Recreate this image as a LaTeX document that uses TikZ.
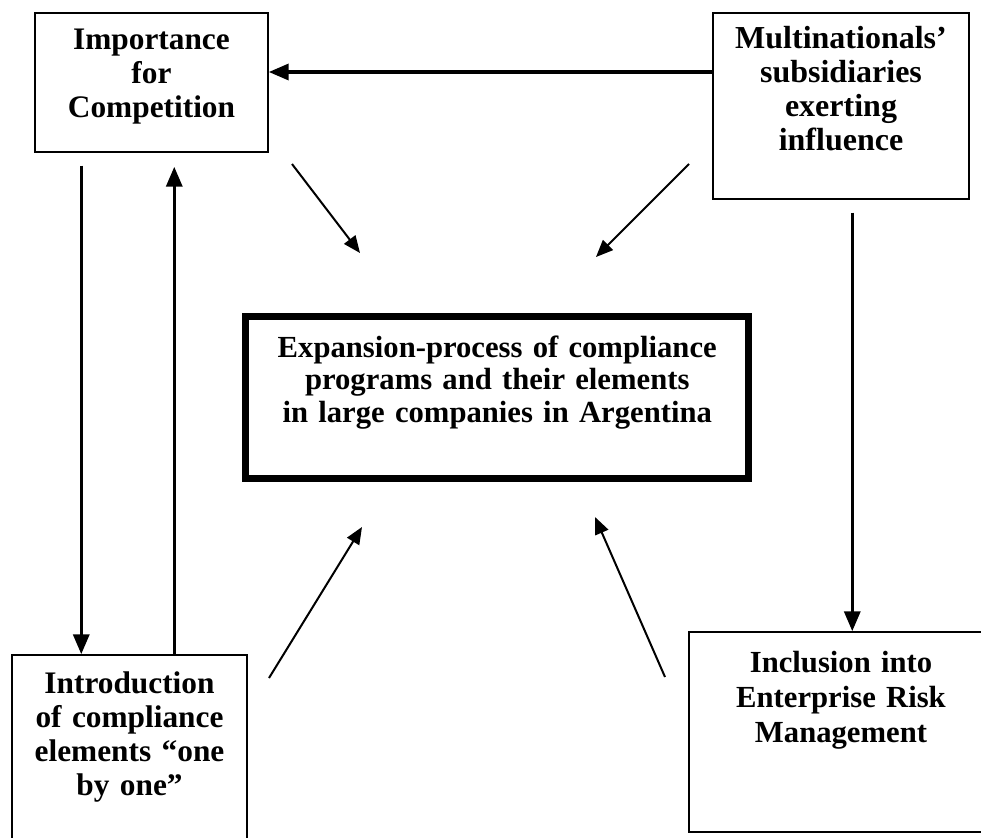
\documentclass[tikz,border=0pt]{standalone}
\usepackage{fontspec}
\setmainfont{Liberation Serif}
\usetikzlibrary{arrows.meta,calc}
\tikzset{
    mybox/.style={rectangle, draw=black, line width=1.1pt, inner sep=0pt, align=center, font=\bfseries\fontsize{23.5}{25.5}\selectfont},
    mainbox/.style={mybox, line width=5.25pt, font=\bfseries\fontsize{23}{24.5}\selectfont},
    myarrow/.style={-{Triangle[length=15pt,width=12pt]}, line width=2.6pt},
    thinarrow/.style={-{Triangle[length=12.75pt,width=10.5pt]}, line width=1.5pt}
}
\begin{document}
\begin{tikzpicture}[x=0.75pt, y=-0.75pt]
\useasboundingbox (0,0) rectangle (981,838);
\clip (0,0) rectangle (981,838);

\node[mybox, text width=174.75pt, text height=27.75pt, text depth=76.5pt] (imp) at (151.5,82.5) {Importance\\for\\Competition};
\node[mybox, text width=192pt, text height=27pt, text depth=112.5pt, font=\bfseries\fontsize{24}{25.5}\selectfont] (mult) at (841,106) {Multinationals'\\subsidiaries\\exerting\\influence};
\node[mainbox, text width=377.6pt, text height=30.75pt, text depth=90.75pt] (cen) at (497.25,397) {Expansion-process of compliance\\programs and their elements\\in large companies in Argentina};
\node[mybox, text width=176.25pt, text height=28.5pt, text depth=117.75pt] (intro) at (129.5,752.5) {Introduction\\of compliance\\elements “one\\by one”};
\node[mybox, text width=228pt, text height=30pt, text depth=120pt, font=\bfseries\fontsize{23}{26.25}\selectfont] (incl) at (841,732) {Inclusion into\\Enterprise Risk\\Management};

\coordinate (fromnw) at (292,164);
\coordinate (tonw) at (360,253);
\coordinate (fromne) at (689,164);
\coordinate (tone) at (596,257);
\coordinate (fromsw) at (269,678);
\coordinate (tosw) at (362,527);
\coordinate (fromse) at (665,677);
\coordinate (tose) at (595,517);

\draw[myarrow] ($(mult.west)+(0,-34)$) -- ($(imp.east)+(0,-10.5)$);
\draw[myarrow] ($(imp.south west)+(47,13)$) -- ($(intro.north west)+(70,0)$);
\draw[myarrow] ($(intro.north west)+(163,0)$) -- ($(imp.south west)+(140,14)$);
\draw[myarrow] ($(mult.south west)+(140,13)$) -- ($(incl.north west)+(164,0)$);

\draw[thinarrow] (fromnw) -- (tonw);
\draw[thinarrow] (fromne) -- (tone);
\draw[thinarrow] (fromsw) -- (tosw);
\draw[thinarrow] (fromse) -- (tose);
\end{tikzpicture}
\end{document}
